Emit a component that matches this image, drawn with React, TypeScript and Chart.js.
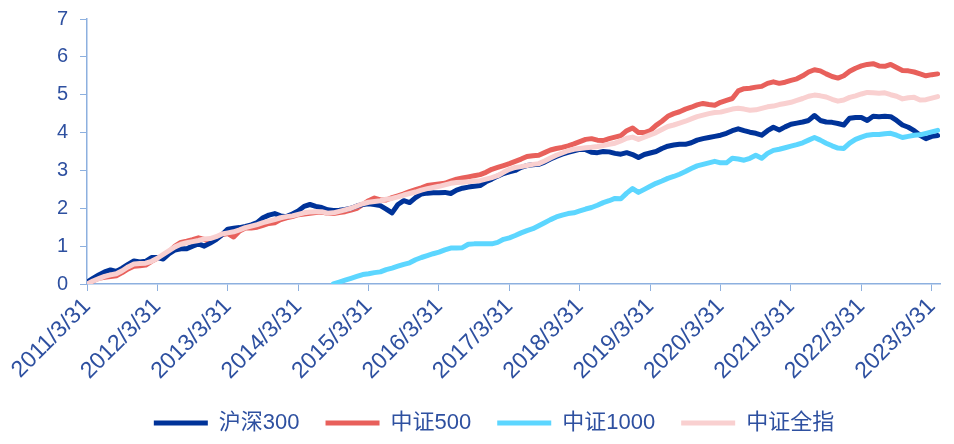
import { useEffect, useRef } from "react";
import { Chart, registerables } from "chart.js";

Chart.register(...registerables);

const tickLabels = [
  "2011/3/31", "2012/3/31", "2013/3/31", "2014/3/31", "2015/3/31", "2016/3/31", "2017/3/31",
  "2018/3/31", "2019/3/31", "2020/3/31", "2021/3/31", "2022/3/31", "2023/3/31",
];

const seriesNames = ["沪深300", "中证500", "中证1000", "中证全指"];

// monthly values starting 2011/3/31
const hs300 = [
  0.05, 0.15, 0.24, 0.32, 0.37, 0.33, 0.42, 0.52, 0.61, 0.58,
  0.6, 0.7, 0.7, 0.66, 0.8, 0.9, 0.93, 0.93, 1.0, 1.06,
  1.0, 1.08, 1.17, 1.3, 1.45, 1.47, 1.49, 1.52, 1.56, 1.62,
  1.75, 1.82, 1.86, 1.8, 1.78, 1.85, 1.93, 2.05, 2.1, 2.05,
  2.02, 1.96, 1.94, 1.95, 1.97, 2.0, 2.06, 2.1, 2.12, 2.1,
  2.07, 1.98, 1.88, 2.1, 2.2, 2.15, 2.28, 2.38, 2.4, 2.41,
  2.41, 2.42, 2.39, 2.48, 2.53, 2.56, 2.58, 2.6, 2.7, 2.77,
  2.85, 2.92, 2.96, 3.0, 3.08, 3.13, 3.15, 3.16, 3.22, 3.3,
  3.37, 3.43, 3.48, 3.52, 3.56, 3.55, 3.48, 3.47, 3.5, 3.49,
  3.45, 3.43, 3.47, 3.42, 3.34, 3.42, 3.46, 3.5, 3.58, 3.64,
  3.67, 3.69, 3.69, 3.73, 3.8, 3.84, 3.87, 3.9, 3.93, 3.98,
  4.05, 4.1, 4.05, 4.01, 3.98, 3.93, 4.05, 4.14, 4.07, 4.15,
  4.22, 4.25, 4.28, 4.32, 4.45, 4.32, 4.28, 4.27, 4.24, 4.2,
  4.38, 4.4, 4.4, 4.32, 4.43, 4.42, 4.43, 4.42, 4.32, 4.2,
  4.14, 4.05, 3.93, 3.84, 3.9, 3.92,
];

const zz500 = [
  0.0, 0.08, 0.15, 0.18, 0.2, 0.22, 0.3, 0.4, 0.47, 0.48,
  0.5, 0.6, 0.68, 0.75, 0.85, 1.0, 1.1, 1.13, 1.17, 1.22,
  1.18, 1.1, 1.2, 1.3, 1.33, 1.24, 1.4, 1.48, 1.48, 1.5,
  1.55, 1.6, 1.62, 1.7, 1.75, 1.78, 1.83, 1.85, 1.87, 1.89,
  1.9, 1.87, 1.86, 1.89, 1.91, 1.95, 2.0, 2.1, 2.2, 2.27,
  2.22, 2.22, 2.28, 2.33, 2.38, 2.44, 2.49, 2.54, 2.6, 2.62,
  2.64, 2.66, 2.72, 2.77, 2.8, 2.83, 2.86, 2.89, 2.95, 3.03,
  3.08, 3.13, 3.18, 3.24, 3.3, 3.37, 3.39, 3.4, 3.47, 3.54,
  3.58, 3.61, 3.65, 3.7, 3.76, 3.82, 3.84, 3.8, 3.79, 3.84,
  3.88, 3.92, 4.05, 4.12, 4.0, 4.0, 4.05, 4.19, 4.3, 4.43,
  4.5, 4.55, 4.62, 4.67, 4.73, 4.77, 4.74, 4.72, 4.8, 4.85,
  4.9, 5.1, 5.16, 5.17, 5.2, 5.22, 5.3, 5.34, 5.3, 5.33,
  5.38, 5.42, 5.5, 5.6, 5.66, 5.63, 5.55, 5.48, 5.44, 5.5,
  5.62, 5.7, 5.76, 5.8, 5.82, 5.76, 5.75, 5.8, 5.72, 5.64,
  5.63, 5.6, 5.55, 5.5, 5.53, 5.55,
];

// 中证1000 starts at month index 42
const zz1000Start = 42;
const zz1000 = [
  0.0, 0.05, 0.1, 0.15, 0.2, 0.25, 0.27, 0.3,
  0.32, 0.38, 0.42, 0.47, 0.52, 0.56, 0.64, 0.7, 0.75, 0.8,
  0.84, 0.9, 0.95, 0.95, 0.96, 1.05, 1.06, 1.06, 1.06, 1.06,
  1.1, 1.18, 1.22, 1.28, 1.35, 1.41, 1.46, 1.54, 1.62, 1.7,
  1.77, 1.82, 1.86, 1.88, 1.93, 1.98, 2.02, 2.08, 2.15, 2.2,
  2.26, 2.25, 2.4, 2.52, 2.42, 2.5, 2.58, 2.66, 2.72, 2.79,
  2.84, 2.9, 2.97, 3.05, 3.12, 3.16, 3.2, 3.24, 3.2, 3.2,
  3.32, 3.3, 3.27, 3.32, 3.4, 3.32, 3.45, 3.53, 3.56, 3.6,
  3.64, 3.68, 3.73, 3.8, 3.87, 3.8, 3.72, 3.65, 3.59, 3.58,
  3.72, 3.82, 3.88, 3.93, 3.95, 3.95, 3.97, 3.98, 3.93, 3.87,
  3.9, 3.93, 3.94, 3.98, 4.02, 4.06,
];

const zzqz = [
  0.0, 0.08, 0.14, 0.2, 0.24, 0.27, 0.35, 0.45, 0.53, 0.54,
  0.55, 0.6, 0.68, 0.78, 0.88, 0.98, 1.05, 1.09, 1.12, 1.15,
  1.19, 1.2, 1.25, 1.32, 1.35, 1.38, 1.43, 1.49, 1.53, 1.57,
  1.62, 1.66, 1.7, 1.75, 1.78, 1.8, 1.84, 1.88, 1.9, 1.91,
  1.91, 1.87, 1.88, 1.92, 1.96, 2.0, 2.06, 2.12, 2.16, 2.18,
  2.2, 2.24, 2.26, 2.3, 2.35, 2.39, 2.43, 2.48, 2.52, 2.55,
  2.58, 2.62, 2.66, 2.68, 2.69, 2.7, 2.72, 2.73, 2.77, 2.81,
  2.86, 2.95, 3.03, 3.08, 3.1, 3.13, 3.16, 3.18, 3.25, 3.33,
  3.4, 3.46, 3.52, 3.56, 3.58, 3.6, 3.61, 3.63, 3.66, 3.69,
  3.72, 3.78, 3.85, 3.88, 3.82, 3.88, 3.94, 4.0, 4.08, 4.16,
  4.2, 4.25, 4.3, 4.36, 4.42, 4.46, 4.5, 4.53, 4.54, 4.58,
  4.62, 4.64, 4.62, 4.59, 4.6, 4.64, 4.68, 4.7, 4.74, 4.77,
  4.8, 4.85, 4.9, 4.96, 4.99, 4.97, 4.94, 4.88, 4.83, 4.86,
  4.93, 4.97, 5.02, 5.06, 5.05, 5.04, 5.05, 5.0, 4.96, 4.89,
  4.92, 4.93, 4.86, 4.87, 4.91, 4.95,
];

const FONT = "'Liberation Sans', 'Noto Sans CJK SC', Arial, sans-serif";
const TEXT = "#2E50A0";
const AXIS = "#8DB0DF";
const LW = 5;

const toPts = (vals: number[], start = 0) => vals.map((v, i) => ({ x: start + i, y: v }));

const mkSet = (label: string, data: { x: number; y: number }[], color: string, order: number) => ({
  label,
  data,
  borderColor: color,
  backgroundColor: color,
  borderWidth: LW,
  borderCapStyle: "round" as const,
  borderJoinStyle: "round" as const,
  tension: 0,
  pointRadius: 0,
  order,
});

export default function App() {
  const ref = useRef<HTMLCanvasElement>(null);

  useEffect(() => {
    if (!ref.current) return;
    const chart = new Chart(ref.current, {
      type: "line",
      data: {
        datasets: [
          mkSet(seriesNames[0], toPts(hs300), "#003399", 2),
          mkSet(seriesNames[1], toPts(zz500), "#E8605B", 3),
          mkSet(seriesNames[2], toPts(zz1000, zz1000Start), "#5CD6FF", 1),
          mkSet(seriesNames[3], toPts(zzqz), "#F9D0D0", 0),
        ],
      },
      options: {
        animation: false,
        responsive: false,
        parsing: false,
        layout: { padding: { top: 19, left: 48, right: 14, bottom: 0 } },
        scales: {
          x: {
            type: "linear",
            min: 0,
            max: 145.4,
            afterBuildTicks: (s: any) => {
              s.ticks = tickLabels.map((_, i) => ({ value: i * 12 }));
            },
            afterFit: (s: any) => {
              s.height = 102;
            },
            ticks: {
              callback: (v: any) => tickLabels[Math.round(Number(v) / 12)] ?? "",
              minRotation: 45,
              maxRotation: 45,
              autoSkip: false,
              font: { size: 23, family: FONT },
              color: TEXT,
              padding: 2,
            },
            grid: { drawOnChartArea: false, drawTicks: true, tickLength: 7, color: AXIS, lineWidth: 1 },
            border: { display: true, color: AXIS, width: 1.5 },
          },
          y: {
            min: 0,
            max: 7,
            afterFit: (s: any) => {
              s.width = 39;
              s.paddingTop = 4;
              s.paddingBottom = 4;
            },
            ticks: { stepSize: 1, font: { size: 20, family: FONT }, color: TEXT, padding: 12 },
            grid: { drawOnChartArea: false, drawTicks: true, tickLength: 7, color: AXIS, lineWidth: 1 },
            border: { display: true, color: AXIS, width: 1.5 },
          },
        },
        plugins: {
          legend: {
            position: "bottom",
            labels: {
              usePointStyle: true,
              pointStyle: "line",
              pointStyleWidth: 54,
              font: { size: 22, family: FONT },
              color: TEXT,
              padding: 26,
              sort: (a: any, b: any) => a.datasetIndex - b.datasetIndex,
            },
          },
          tooltip: { enabled: false },
        },
      },
    });
    return () => chart.destroy();
  }, []);

  return (
    <div style={{ position: "fixed", left: 0, top: 0, width: 954, height: 444, background: "#fff" }}>
      <canvas ref={ref} width={954} height={444} style={{ width: 954, height: 444 }} />
    </div>
  );
}
